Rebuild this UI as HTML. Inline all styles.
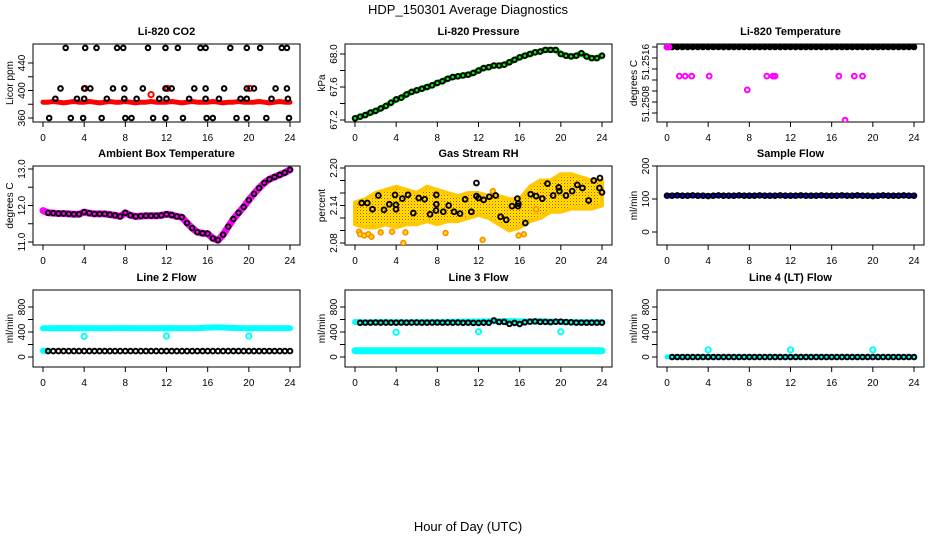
<!DOCTYPE html>
<html><head><meta charset="utf-8"><style>
html,body{margin:0;padding:0;background:#fff;}
svg{display:block;font-family:"Liberation Sans",sans-serif;}
</style></head><body>
<svg id="chart" width="936" height="540" viewBox="0 0 936 540">
<defs>
<pattern id="orangePat" width="3" height="3" patternUnits="userSpaceOnUse">
<rect width="3" height="3" fill="#ffe800"/><rect x="0" y="0" width="1" height="1" fill="#ff3000"/><rect x="1.5" y="1.5" width="1" height="1" fill="#ff9000"/>
</pattern>
</defs>
<text x="468" y="14" text-anchor="middle" font-size="13">HDP_150301  Average Diagnostics</text>
<text x="468" y="531" text-anchor="middle" font-size="13">Hour of Day (UTC)</text>
</svg>
<script>
// ---------- data ----------
const xTickValues = [0,4,8,12,16,20,24];
const co2RedValues = [383,383,384,383,382,383,384,383,383,384,383,382,383,384,383,383,384,383,382,383,383,384,383,383,383,384,383,382,383,384,383,383,383,384,383,382,383,383,384,383,383,383,384,383,382,383,384,383,383];
const co2RedExtraHours = [4.1,10.5,12.1,20.1];
const co2RedExtraValues = [403,394,403,403];
const co2BlackHours = [2.2,4.1,5.2,7.2,7.8,10.2,11.9,13.1,15.3,15.8,18.2,19.8,21.1,23.2,23.7, 1.7,4.0,4.6,6.8,7.9,9.7,11.9,12.5,14.7,15.8,17.6,19.8,20.5,22.6,23.7, 1.2,3.3,4.0,6.2,7.9,9.1,11.3,12.0,14.2,15.8,17.1,19.2,19.8,22.2,23.8, 0.6,2.7,3.9,5.7,8.0,8.6,10.7,11.9,13.6,15.9,16.5,18.8,19.8,21.7,23.9];
const co2BlackValues = [462,462,462,462,462,462,462,462,462,462,462,462,462,462,462, 403,403,403,403,403,403,403,403,403,403,403,403,403,403,403, 388,388,388,388,388,388,388,388,388,388,388,388,388,388,388, 360,360,360,360,360,360,360,360,360,360,360,360,360,360,360];
const pressureValues = [67.22,67.24,67.26,67.29,67.31,67.34,67.37,67.41,67.45,67.47,67.51,67.54,67.56,67.58,67.60,67.62,67.65,67.67,67.70,67.72,67.73,67.74,67.75,67.77,67.80,67.83,67.84,67.86,67.86,67.87,67.90,67.93,67.96,67.98,68.00,68.02,68.03,68.05,68.05,68.05,68.00,67.98,67.97,67.98,68.01,67.97,67.95,67.95,67.98];
const tempTopValue = 51.2518;
const tempMagHours = [1.2,1.76,2.4,4.1,9.7,10.3,10.5,16.7,18.2,19.0,7.8,17.3,0.0,0.2];
const tempMagValues = [51.25127,51.25127,51.25127,51.25127,51.25127,51.25127,51.25127,51.25127,51.25127,51.25127,51.25102,51.25047,51.2518,51.2518];
const ambientValues = [11.86,11.80,11.79,11.78,11.78,11.77,11.76,11.76,11.82,11.79,11.77,11.77,11.77,11.75,11.73,11.70,11.80,11.73,11.70,11.71,11.72,11.72,11.72,11.73,11.76,11.74,11.70,11.68,11.52,11.38,11.27,11.24,11.23,11.10,11.05,11.20,11.42,11.63,11.80,11.96,12.15,12.32,12.48,12.62,12.72,12.78,12.84,12.90,12.98];
const rhHiValues = [2.145,2.15,2.16,2.165,2.17,2.165,2.16,2.17,2.165,2.16,2.155,2.16,2.16,2.155,2.155,2.15,2.15,2.17,2.18,2.18,2.19,2.19,2.185,2.18,2.18];
const rhLoValues = [2.11,2.105,2.105,2.11,2.105,2.11,2.11,2.115,2.11,2.115,2.115,2.12,2.125,2.12,2.11,2.10,2.105,2.115,2.12,2.13,2.13,2.135,2.135,2.135,2.14];
const rhOrangeHours = [0.4,0.5,0.9,1.3,1.6,2.5,3.6,4.7,4.9,8.8,12.4,13.4,15.9,16.4,17.6];
const rhOrangeValues = [2.098,2.094,2.092,2.094,2.090,2.097,2.098,2.080,2.097,2.096,2.085,2.163,2.092,2.094,2.134];
const rhBlackHours = [0.65,1.2,1.7,2.27,2.82,3.34,3.89,3.98,3.98,4.6,5.15,5.67,6.19,6.77,7.29,7.9,7.9,7.87,8.58,9.1,9.62,10.2,10.7,11.3,11.8,11.8,12.0,12.5,13.05,13.67,14.15,14.7,15.26,15.78,15.84,15.87,16.55,17.07,17.6,18.2,18.7,19.25,19.8,19.86,20.5,21.1,21.6,22.1,22.7,23.2,23.8,23.75,24.0];
const rhBlackValues = [2.144,2.144,2.134,2.156,2.133,2.142,2.157,2.141,2.134,2.151,2.157,2.128,2.152,2.150,2.126,2.157,2.142,2.132,2.130,2.140,2.130,2.127,2.150,2.130,2.176,2.155,2.152,2.149,2.154,2.156,2.122,2.117,2.139,2.151,2.139,2.143,2.112,2.158,2.155,2.151,2.175,2.156,2.169,2.163,2.156,2.163,2.173,2.168,2.148,2.180,2.184,2.168,2.161];
const sampleFlowValues = [110,110,111,110,110,111,110,110,109,110,111,110,110,110,111,110,110,110,111,110,110,110,111,110,110,110,111,110,110,110,111,110,110,110,111,110,110,111,110,110,109,110,111,110,110,110,111,110,110];
const line2CyanValues = [460,460,462,460,460,461,460,461,462,460,461,460,462,460,461,460,470,475,468,462,460,461,460,461,460];
const line2BlackValues = [95,95,95,95,95,95,95,95,95,95,95,95,95,95,95,95,95,95,95,95,95,95,95,95,95,95,95,95,95,95,95,95,95,95,95,95,95,95,95,95,95,95,95,95,95,95,95,95];
const flowOutlierHours = [4,12,20];
const line2OutlierValues = [330,335,335];
const line3CyanHighValues = [560,555,556,558,556,557,556,558,557,560,565,566,568,570,572,575,570,568,572,566,560,558,557,556,556];
const line3CyanLowValues = [100,100,100,100,100,100,100,100,100,100,100,100,100,100,100,100,100,100,100,100,100,100,100,100,100];
const line3BlackValues = [548,550,550,552,550,551,550,550,552,550,551,552,550,550,551,552,550,551,550,552,548,550,546,545,550,548,585,560,562,530,545,528,555,565,570,562,562,558,565,566,560,555,550,550,550,550,550,550];
const line3OutlierValues = [395,405,405];
const line4CyanValues = [2,2,2,2,2,2,2,2,2,2,2,2,2,2,2,2,2,2,2,2,2,2,2,2,2];
const line4BlackValues = [0,0,0,0,0,0,0,0,0,0,0,0,0,0,0,0,0,0,0,0,0,0,0,0,0,0,0,0,0,0,0,0,0,0,0,0,0,0,0,0,0,0,0,0,0,0,0,0];
const line4OutlierValues = [115,115,115];

// ---------- layout ----------
const NS = "http://www.w3.org/2000/svg";
const svg = document.getElementById('chart');
const rows = [{top:44,bot:122},{top:166,bot:245},{top:290,bot:367}];
const hourCats = []; for (let i=0;i<=48;i++) hourCats.push(i/2);
const hourCatsB = []; for (let i=1;i<=48;i++) hourCatsB.push(i/2);
const hourly = []; for (let i=0;i<=24;i++) hourly.push(i);

function mk(tag, attrs, parent){ const e=document.createElementNS(NS,tag); for(const k in attrs) e.setAttribute(k,attrs[k]); (parent||svg).appendChild(e); return e; }

function makePanel(name, col, row, v1, y1, v2, y2, ticks, labels, title, ylab, labelPos){
  const g = mk('g',{});
  
  
  const r = rows[row], left = 33+312*col, right = 300+312*col;
  const p = {g, col, x:h=>43+312*col+h*(247/24), y:v=>y1+(v-v1)*(y2-y1)/(v2-v1)};
  const t = mk('text',{x:(left+right)/2,y:r.top-9,'text-anchor':'middle','font-size':11,'font-weight':'bold'},g);
  t.textContent = title;
  
  
  const b = mk('rect',{x:left,y:r.top,width:right-left,height:r.bot-r.top,fill:'none',stroke:'#000','stroke-width':1},g);
  
  
  xTickValues.forEach(h=>{
    const x=p.x(h);
    mk('line',{x1:x,x2:x,y1:r.bot,y2:r.bot+5,stroke:'#000'},g);
    const tx=mk('text',{x:x,y:r.bot+19,'text-anchor':'middle','font-size':10},g);
    tx.textContent=String(h);
    
    
  });
  ticks.forEach((v,i)=>{
    const y=p.y(v);
    mk('line',{x1:left-5,x2:left,y1:y,y2:y,stroke:'#000'},g);
    if(labels[i]){
      const yy = labelPos && labelPos[i] ? labelPos[i] : y;
      const tx=mk('text',{x:0,y:0,'text-anchor':'middle','font-size':10,transform:`translate(${left-8},${yy}) rotate(-90)`},g);
      tx.textContent=labels[i];
      
      
    }
  });
  const yl=mk('text',{x:0,y:0,'text-anchor':'middle','font-size':10,transform:`translate(${left-20},${(r.top+r.bot)/2}) rotate(-90)`},g);
  yl.textContent=ylab;
  
  
  const clip = mk('clipPath',{id:'clip'+name},g);
  mk('rect',{x:left,y:r.top,width:right-left,height:r.bot-r.top},clip);
  p.plot = mk('g',{'clip-path':`url(#clip${name})`},g);
  return p;
}
function band(p, hs, vs, color, w, nm){
  const pl = mk('polyline',{points:hs.map((h,i)=>p.x(h)+','+p.y(vs[i])).join(' '),fill:'none',stroke:color,'stroke-width':w,'stroke-linejoin':'round','stroke-linecap':'round'},p.plot);
  
  
}
function pts(p, hs, vs, color, nm, r, sw){
  hs.forEach((h,i)=>{
    const c = mk('circle',{cx:p.x(h),cy:p.y(vs[i]),r:r||2.4,fill:'none',stroke:color,'stroke-width':sw||1.8},p.plot);
    
    
  });
}

// CO2
let p = makePanel('co2',0,0,360,118,440,63,[360,380,400,420,440],['360','','400','','440'],'Li-820 CO2','Licor ppm');
band(p,hourCats,co2RedValues,'#ff0000',5,'co2-red-series');
pts(p,co2RedExtraHours,co2RedExtraValues,'#ff0000','co2-red-point',2.6,2);
pts(p,co2BlackHours,co2BlackValues,'#000','co2-black-point',2.3,2);

// Pressure
p = makePanel('pressure',1,0,67.2,120,68.0,54,[67.2,67.4,67.6,67.8,68.0],['67.2','','67.6','','68.0'],'Li-820 Pressure','kPa');
band(p,hourCats,pressureValues,'#00ff00',6,'pressure-green-series');
pts(p,hourCats,pressureValues,'#000','pressure-black-point',2.3,2);

// Temperature
p = makePanel('li820-temp',2,0,51.2516,58,51.2508,102,[51.2506,51.2508,51.2510,51.2512,51.2514,51.2516,51.2518],['','51.2508','','','','51.2516',''],'Li-820 Temperature','degrees C',[0,104,0,0,0,62,0]);
band(p,hourly,hourly.map(()=>tempTopValue),'#000',4,'li820-temp-black-series');
pts(p,hourCats,hourCats.map(()=>tempTopValue),'#000','li820-temp-black-point',2.3,2);
pts(p,tempMagHours,tempMagValues,'#ff00ff','li820-temp-magenta-point',2.4,2);

// Ambient
p = makePanel('ambient',0,1,11,242,13,169,[11,11.5,12,12.5,13],['11.0','','12.0','','13.0'],'Ambient Box Temperature','degrees C');
band(p,hourCats,ambientValues,'#ff00ff',7,'ambient-magenta-series');
pts(p,hourCatsB,ambientValues.slice(1),'#000','ambient-black-point',2.3,1.8);

// RH
p = makePanel('rh',1,1,2.08,243,2.20,168,[2.08,2.10,2.12,2.14,2.16,2.18,2.20],['2.08','','','2.14','','','2.20'],'Gas Stream RH','percent');
const poly = mk('polygon',{points: hourly.map((h,i)=>p.x(h)+','+p.y(rhHiValues[i])).concat(hourly.slice().reverse().map(h=>p.x(h)+','+p.y(rhLoValues[h]))).join(' '),fill:'url(#orangePat)',stroke:'#ffc800','stroke-width':4,'stroke-linejoin':'round'},p.plot);


rhOrangeHours.forEach((h,i)=>{
  const c = mk('circle',{cx:p.x(h),cy:p.y(rhOrangeValues[i]),r:2.4,fill:'#ffe800',stroke:'#ff8800','stroke-width':1.6},p.plot);
  
  
});
pts(p,rhBlackHours,rhBlackValues,'#000','rh-black-point',2.4,1.9);

// Sample flow
p = makePanel('sample-flow',2,1,0,232,200,166,[0,100,200],['0','100','200'],'Sample Flow','ml/min');
band(p,hourCats,sampleFlowValues,'#0000ff',5,'sample-flow-blue-series');
pts(p,hourCats,sampleFlowValues,'#000','sample-flow-black-point',2.3,2);

// Line 2
p = makePanel('line2-flow',0,2,0,357,800,307,[0,200,400,600,800],['0','','400','','800'],'Line 2 Flow','ml/min');
band(p,hourly,line2CyanValues,'#00ffff',6,'line2-cyan-series');
band(p,[0,0.5],[100,100],'#00ffff',6,'line2-cyan-low');
pts(p,hourCatsB,line2BlackValues,'#000','line2-black-point',2.3,2);
pts(p,flowOutlierHours,line2OutlierValues,'#00ffff','line2-cyan-outlier',2.6,2);

// Line 3
p = makePanel('line3-flow',1,2,0,357,800,307,[0,200,400,600,800],['0','','400','','800'],'Line 3 Flow','ml/min');
band(p,hourly,line3CyanHighValues,'#00ffff',6,'line3-cyan-high-series');
band(p,hourly,line3CyanLowValues,'#00ffff',7,'line3-cyan-low-series');
pts(p,hourCatsB,line3BlackValues,'#000','line3-black-point',2.3,2);
pts(p,flowOutlierHours,line3OutlierValues,'#00ffff','line3-cyan-outlier',2.6,2);

// Line 4
p = makePanel('line4-flow',2,2,0,357,800,307,[0,200,400,600,800],['0','','400','','800'],'Line 4 (LT) Flow','ml/min');
band(p,hourly,line4CyanValues,'#00ffff',5,'line4-cyan-series');
pts(p,hourCatsB,line4BlackValues,'#000','line4-black-point',2.3,2);
pts(p,flowOutlierHours,line4OutlierValues,'#00ffff','line4-cyan-outlier',2.6,2);
</script>
</body></html>
